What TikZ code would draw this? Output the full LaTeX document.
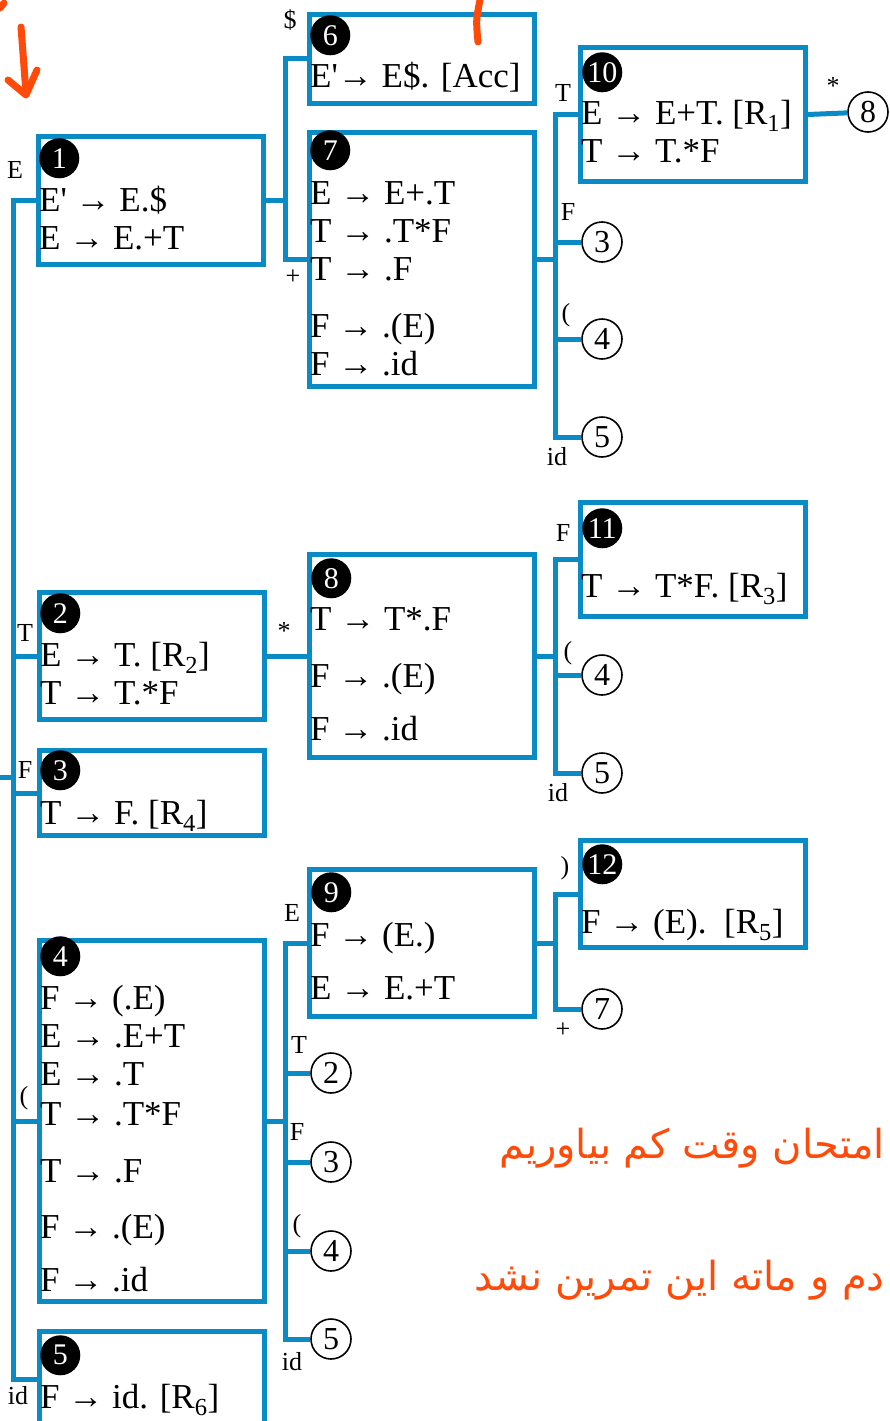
\documentclass[tikz,border=0pt]{standalone}
\usepackage{fontspec}
\setmainfont{Liberation Serif}
\newfontfamily\persfont[Script=Arabic]{DejaVu Sans}
\TeXXeTstate=1
\usetikzlibrary{positioning}
\definecolor{accent}{HTML}{0A8BC6}
\definecolor{ink}{HTML}{FF4A0A}

\begin{document}
\begin{tikzpicture}[
      x=1pt, y=-1pt,
      every node/.style={inner sep=0pt},
      state/.style={draw=accent, line width=5pt, anchor=north west,
                    minimum width=225pt},
      badge/.style={circle, fill=black, text=white, minimum size=40pt,
                    font=\fontsize{30}{30}\selectfont},
      goto/.style={circle, draw=black, line width=1.6pt, minimum size=40pt,
                   font=\fontsize{32}{32}\selectfont},
      rules/.style={anchor=base west, align=left,
                    font=\fontsize{35}{38}\selectfont},
      sym/.style={font=\fontsize{26}{26}\selectfont},
      link/.style={draw=accent, line width=5pt},
      note/.style={text=ink, anchor=east,
                   font=\persfont\fontsize{40}{44}\selectfont},
      scribble/.style={draw=ink, line width=7pt, line cap=round, line join=round},
    ]
    \useasboundingbox (0,0) rectangle (889,1421);
    \clip (0,0) rectangle (889,1421);

    % item sets
    \node[state, minimum height=128pt] (s1)  at (36,134)  {};
    \node[state, minimum height=89pt]  (s6)  at (307,12)  {};
    \node[state, minimum height=254pt] (s7)  at (307,130) {};
    \node[state, minimum height=134pt] (s10) at (578,45)  {};
    \node[state, minimum height=127pt] (s2)  at (37,590)  {};
    \node[state, minimum height=85pt]  (s3)  at (37,748)  {};
    \node[state, minimum height=203pt] (s8)  at (307,552) {};
    \node[state, minimum height=114pt] (s11) at (578,500) {};
    \node[state, minimum height=361pt] (s4)  at (37,938)  {};
    \node[state, minimum height=147pt] (s9)  at (307,867) {};
    \node[state, minimum height=107pt] (s12) at (578,838) {};
    \node[state, minimum height=96pt]  (s5)  at (37,1329) {};

    \node[badge, below right=10pt and 9pt of s1.north west]  (n1)  {1};
    \node[badge, below right=9pt and 9pt of s6.north west]   (n6)  {6};
    \node[badge, below right=6pt and 9pt of s7.north west]   (n7)  {7};
    \node[badge, below right=13pt and 10pt of s10.north west] (n10) {10};
    \node[badge, below right=9pt and 9pt of s2.north west]   (n2)  {2};
    \node[badge, below right=8pt and 9pt of s3.north west]   (n3)  {3};
    \node[badge, below right=12pt and 10pt of s8.north west] (n8)  {8};
    \node[badge, below right=14pt and 10pt of s11.north west] (n11) {11};
    \node[badge, below right=4pt and 9pt of s4.north west]   (n4)  {4};
    \node[badge, below right=11pt and 10pt of s9.north west] (n9)  {9};
    \node[badge, below right=12pt and 10pt of s12.north west] (n12) {12};
    \node[badge, below right=12pt and 9pt of s5.north west]  (n5)  {5};

    % rules: anchored at the baseline of the last line
    \node[rules] (r1)  at (39,249)   {E\textquotesingle\ → E.\$\\E → E.+T};
    \node[rules] (r6)  at (310,87)   {E\textquotesingle→ E\$. [Acc]};
    \node[rules] (r7)  at (310,375)  {E → E+.T\\T → .T*F\\T → .F\\[19pt]F → .(E)\\F → .id};
    \node[rules] (r10) at (581,162)  {E → E+T. [R\textsubscript{1}]\\T → T.*F};
    \node[rules] (r2)  at (40,704)   {E → T. [R\textsubscript{2}]\\T → T.*F};
    \node[rules] (r3)  at (40,824)   {T → F. [R\textsubscript{4}]};
    \node[rules] (r8)  at (310,740)  {T → T*.F\\[19pt]F → .(E)\\[15pt]F → .id};
    \node[rules] (r11) at (581,597)  {T → T*F. [R\textsubscript{3}]};
    \node[rules] (r4)  at (40,1291)  {F → (.E)\\E → .E+T\\E → .T\\[2pt]T → .T*F\\[19pt]T → .F\\[18pt]F → .(E)\\[15pt]F → .id};
    \node[rules] (r9)  at (310,999)  {F → (E.)\\[15pt]E → E.+T};
    \node[rules] (r12) at (581,933)  {F → (E).~ [R\textsubscript{5}]};
    \node[rules] (r5)  at (40,1408)  {F → id. [R\textsubscript{6}]};

    % goto targets
    \node[goto] (to8)  at (868,112)  {8};
    \node[goto] (to3a) at (602,242)  {3};
    \node[goto] (to4a) at (602,339)  {4};
    \node[goto] (to5a) at (602,437)  {5};
    \node[goto] (to4b) at (602,675)  {4};
    \node[goto] (to5b) at (602,773)  {5};
    \node[goto] (to7)  at (602,1009) {7};
    \node[goto] (to2c) at (331,1073) {2};
    \node[goto] (to3c) at (331,1162) {3};
    \node[goto] (to4c) at (331,1251) {4};
    \node[goto] (to5c) at (331,1339) {5};

    % connectors
    \coordinate (ja) at (13,0);
    \coordinate (jb) at (285,0);
    \coordinate (jc) at (555,0);
    \coordinate (entry) at (-5,777);

    \draw[link] (s1.west) -- (s1.west -| ja) -- (s5.west -| ja) -- (s5.west);
    \draw[link] (s2.west -| ja) -- (s2.west);
    \draw[link] (s3.west -| ja) -- (s3.west);
    \draw[link] (s4.west -| ja) -- (s4.west);
    \draw[link] (entry) -- (entry -| ja);

    \draw[link] (s1.east) -- (s1.east -| jb) |- (s6.west);
    \draw[link] (s1.east -| jb) |- (s7.west);

    \draw[link] (s7.east) -- (s7.east -| jc);
    \draw[link] (s10.west) -- (s10.west -| jc) -- (to5a.west -| jc) -- (to5a.west);
    \draw[link] (to3a.west -| jc) -- (to3a.west);
    \draw[link] (to4a.west -| jc) -- (to4a.west);
    \draw[link] (s10.east) -- (to8);

    \draw[link] (s2.east) -- (s8.west);
    \draw[link] (s8.east) -- (s8.east -| jc);
    \draw[link] (s11.west) -- (s11.west -| jc) -- (to5b.west -| jc) -- (to5b.west);
    \draw[link] (to4b.west -| jc) -- (to4b.west);

    \draw[link] (s4.east) -- (s4.east -| jb);
    \draw[link] (s9.west) -- (s9.west -| jb) -- (to5c.west -| jb) -- (to5c.west);
    \draw[link] (to2c.west -| jb) -- (to2c.west);
    \draw[link] (to3c.west -| jb) -- (to3c.west);
    \draw[link] (to4c.west -| jb) -- (to4c.west);

    \draw[link] (s9.east) -- (s9.east -| jc);
    \draw[link] (s12.west) -- (s12.west -| jc) -- (to7.west -| jc) -- (to7.west);

    % edge symbols
    \node[sym] (e1)   at (15,170)   {E};
    \node[sym] (e6)   at (290,20)   {\$};
    \node[sym] (e7)   at (293,277)  {+};
    \node[sym] (e10)  at (563,93)   {T};
    \node[sym] (e3a)  at (568,212)  {F};
    \node[sym] (e4a)  at (566,315)  {(};
    \node[sym] (e5a)  at (557,457)  {id};
    \node[sym] (e8a)  at (833,86)   {*};
    \node[sym] (e2)   at (25,633)   {T};
    \node[sym] (e8b)  at (284,631)  {*};
    \node[sym] (e11)  at (563,533)  {F};
    \node[sym] (e4b)  at (568,653)  {(};
    \node[sym] (e5b)  at (558,793)  {id};
    \node[sym] (e3)   at (25,770)   {F};
    \node[sym] (e4)   at (24,1098)  {(};
    \node[sym] (e5)   at (18,1396)  {id};
    \node[sym] (e9)   at (292,913)  {E};
    \node[sym] (e2c)  at (299,1045) {T};
    \node[sym] (e3c)  at (297,1132) {F};
    \node[sym] (e4c)  at (297,1226) {(};
    \node[sym] (e5c)  at (292,1362) {id};
    \node[sym] (e12)  at (565,868)  {)};
    \node[sym] (e7c)  at (563,1030) {+};

    % handwritten notes
    \draw[scribble] (21,27) -- (26,93);
    \draw[scribble] (8,80) -- (26,95) -- (37,70);
    \draw[scribble] (480,0) .. controls (476,20) .. (478,42);
    \draw[scribble] (0,8) -- (4,3);
    \node[note] (h1) at (885,1148) {\beginR امتحان وقت کم بیاوریم\endR};
    \node[note] (h2) at (885,1280) {\beginR دم و ماته این تمرین نشد\endR};
  \end{tikzpicture}
\end{document}
